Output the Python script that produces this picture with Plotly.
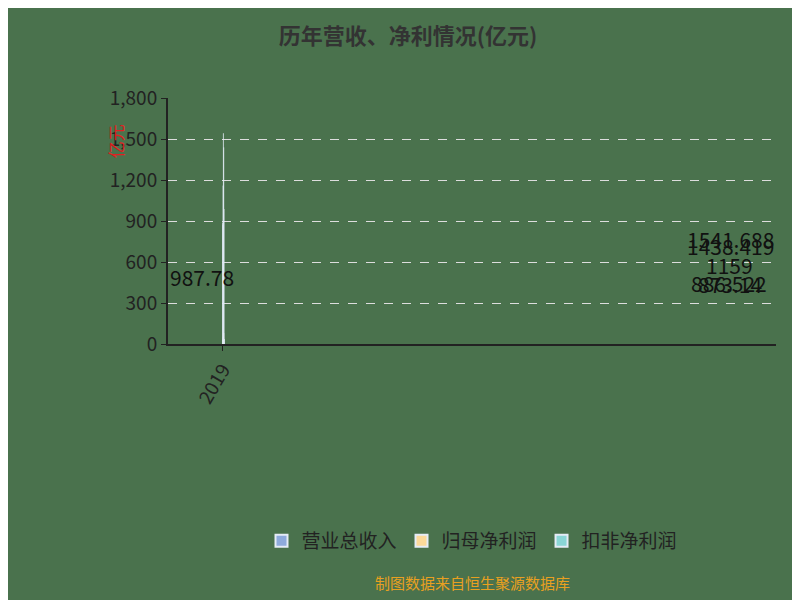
import plotly.graph_objects as go

years = ["2019", "2020", "2021", "2022", "2023", "2024Q1-Q3"]
revenue = [886.522, 873.14, 1159, 1541.688, 1438.419, 987.78]
revenue_labels = ["886.522", "873.14", "1159", "1541.688", "1438.419", "987.78"]
net_profit = [30, 28, 50, 58, 80, 37]
deducted_profit = [15, 14, 37, 50, 28, 36]

fig = go.Figure()
fig.add_bar(x=years, y=revenue, name="营业总收入", marker_color="#8eaadc")
fig.add_bar(x=years, y=net_profit, name="归母净利润", marker_color="#fcd99a")
fig.add_bar(x=years, y=deducted_profit, name="扣非净利润", marker_color="#8ad6d6")

for yr, v, t in zip(years, revenue, revenue_labels):
    fig.add_annotation(x=yr, y=v / 2, text=t, showarrow=False, xshift=-22,
                       font=dict(size=21, color="#111111"))

fig.update_layout(
    width=800, height=600,
    paper_bgcolor="#4a724d", plot_bgcolor="#4a724d",
    font=dict(family="Noto Sans CJK SC", color="#222222"),
    title=dict(text="<b>历年营收、净利情况(亿元)</b>", x=0.5, y=0.965, xanchor="center",
               font=dict(size=22, color="#333333")),
    margin=dict(l=160, r=32, t=90, b=264),
    bargap=0.3, bargroupgap=0.05,
    showlegend=True,
    legend=dict(orientation="h", x=0.5, xanchor="center", y=-0.8, yanchor="middle",
                font=dict(size=19, color="#222222"), itemsizing="constant"),
    xaxis=dict(type="category", showline=True, linecolor="#222222", linewidth=2,
               ticks="outside", tickcolor="#222222", tickangle=-60,
               tickfont=dict(size=19, color="#222222")),
    yaxis=dict(range=[0, 1800], dtick=300, tickformat=",", showgrid=True,
               gridcolor="#dddddd", griddash="dash", showline=True, linecolor="#222222",
               linewidth=2, ticks="outside", tickcolor="#222222", zeroline=False,
               tickfont=dict(size=19, color="#222222")),
)
fig.add_annotation(x=-0.11, y=0.9, xref="paper", yref="paper", text="亿元", showarrow=False,
                   textangle=-90, font=dict(size=17, color="#e02020"))
fig.add_annotation(x=0.5, y=-1.02, xref="paper", yref="paper", text="制图数据来自恒生聚源数据库",
                   showarrow=False, font=dict(size=15, color="#e8a020"))
fig.write_html("out.html")
